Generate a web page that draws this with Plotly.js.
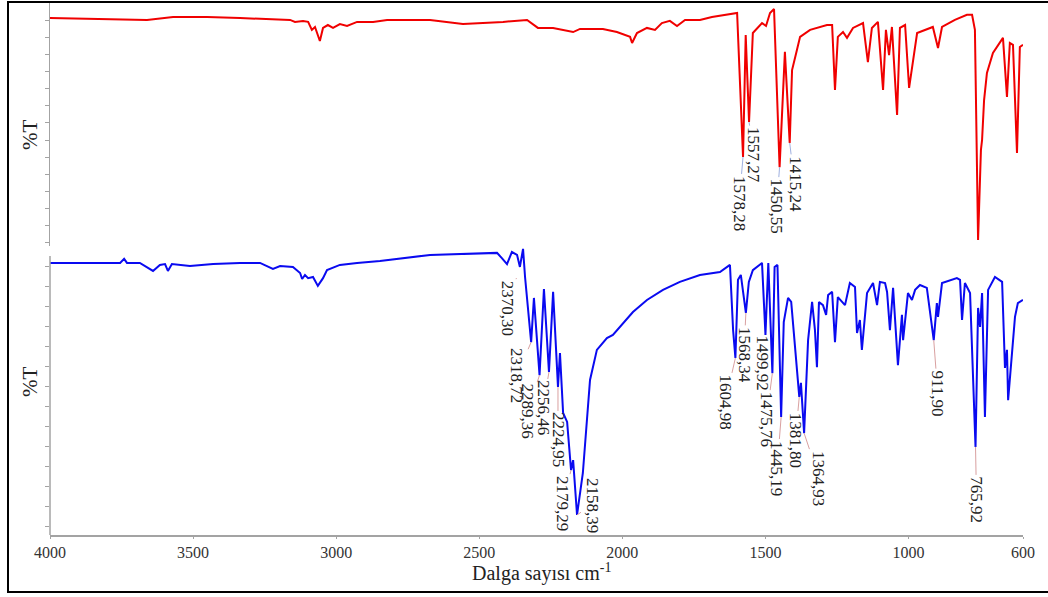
<!DOCTYPE html>
<html>
<head>
<meta charset="utf-8">
<script src="https://cdn.plot.ly/plotly-3.0.1.min.js"></script>
<style>
  html, body { margin: 0; padding: 0; background: #fff; overflow: hidden; }
  #chart { position: absolute; left: 0; top: 0; width: 1048px; height: 597px; }
  #frame { position: absolute; left: 7px; top: 1px; width: 1060px; height: 592px;
           border: 2px solid #000; box-sizing: border-box; pointer-events: none; }
</style>
</head>
<body>
<div id="chart"></div>
<div id="frame"></div>
<script>
// ---- Data ----
const redWavenumber = [4000,3860,3745,3661,3570,3451,3336,3221,3161,3144,3116,3098,3085,3074,3057,3046,3029,3011,2987,2962,2927,2871,2822,2672,2557,2417,2333,2295,2242,2172,2148,2068,2019,1973,1966,1949,1914,1886,1862,1834,1809,1781,1729,1687,1641,1599,1578.28,1569,1557.27,1544,1512,1498,1484,1470,1450.55,1432,1415.24,1407,1390,1379,1344,1285,1267,1257,1247,1229,1215,1194,1159,1142,1128,1107,1089,1079,1068,1058,1040,1030,1012,998,970,915,897,883,838,796,778,768,757,747,743,736,726,705,670,656,646,635,621,611,600];
const redTransmittance = [94.2,93.8,93.4,93.4,94.6,94.6,94.2,93.8,93.4,92.6,93.0,92.6,89.3,90.5,84.7,90.1,91.3,90.1,91.7,90.9,92.6,92.6,93.4,93.4,91.7,92.6,93.4,90.1,90.1,88.4,89.7,89.7,88.4,86.4,83.9,88.0,90.1,89.3,92.1,93.0,90.9,93.4,93.4,94.6,95.5,96.3,36.8,87.2,51.2,88.0,92.1,90.9,96.3,97.9,32.6,80.2,42.6,72.7,81.0,86.4,89.3,91.3,91.3,64.5,86.4,88.4,86.0,90.1,92.1,76.0,90.1,92.6,64.5,89.3,78.9,90.5,54.1,90.1,91.3,65.3,88.0,90.5,81.8,90.5,93.4,95.5,95.5,89.3,2.5,39.7,43.8,60.3,71.5,79.8,86.0,61.6,83.9,83.1,38.4,82.2,83.1];

const blueWavenumber = [4000,3860,3755,3741,3731,3686,3640,3616,3598,3588,3574,3511,3430,3336,3266,3221,3196,3151,3126,3119,3109,3098,3081,3064,3046,3032,2987,2927,2847,2672,2438,2421,2403,2386,2368,2358,2347,2340,2318.72,2309,2289.36,2274,2256.46,2242,2224.95,2218,2207,2193,2179.29,2172,2158.39,2138,2113,2089,2054,2033,2008,1963,1914,1858,1799,1729,1659,1624,1613,1604.98,1596,1586,1568.34,1558,1544,1512,1499.92,1490,1475.76,1468,1458,1445.19,1436,1421,1410,1381.80,1376,1364.93,1351,1337,1327,1320,1313,1299,1288,1281,1267,1257,1247,1222,1205,1187,1180,1170,1163,1145,1124,1110,1100,1082,1075,1065,1054,1037,1023,1019,1002,988,977,960,936,925,911.90,901,897,883,831,820,813,803,785,765.92,757,750,743,733,722,698,673,663,656,652,639,628,618,600];
const blueTransmittance = [94.8,94.8,94.8,96.2,94.8,94.8,92.0,94.1,94.4,92.0,94.4,93.7,94.4,94.8,94.8,92.7,93.7,93.4,91.3,89.2,90.6,89.5,89.9,86.8,89.5,92.3,94.1,94.8,95.5,97.6,98.3,96.5,94.4,98.6,97.6,93.4,99.7,89.9,67.2,82.6,55.7,85.7,56.8,84.7,51.6,63.4,42.5,39.4,22.6,26.1,7.0,21.6,54.0,64.5,68.6,69.7,72.5,77.7,81.9,85.4,88.2,90.6,91.6,94.1,71.4,61.7,88.9,90.6,77.4,88.2,92.3,94.8,69.7,94.8,56.4,93.4,94.1,41.1,74.2,82.6,81.2,48.1,53.0,35.5,67.9,81.2,71.4,58.5,81.2,80.1,76.7,83.6,84.7,67.2,82.9,80.1,87.8,86.4,70.4,74.9,64.5,84.3,87.8,80.1,88.2,87.8,84.7,71.4,86.1,59.2,76.7,67.9,84.3,81.9,85.4,87.1,86.1,78.4,67.9,80.8,76.0,87.8,89.5,88.9,74.9,87.8,84.3,30.7,79.1,72.5,84.3,41.1,85.4,89.9,88.2,58.2,64.5,47.0,61.7,76.0,80.8,81.9];

// Peak labels
const redPeakWavenumber = [1578.28, 1557.27, 1450.55, 1415.24];
const redPeakTransmittance = [36.8, 51.2, 32.6, 42.6];
const redPeakLabels = ["1578,28", "1557,27", "1450,55", "1415,24"];

const bluePeakWavenumber = [2370.30, 2318.72, 2289.36, 2256.46, 2224.95, 2179.29, 2158.39, 1604.98, 1568.34, 1499.92, 1475.76, 1445.19, 1381.80, 1364.93, 911.90, 765.92];
const bluePeakTransmittance = [89.5, 67.2, 55.7, 56.8, 51.6, 22.6, 7.0, 61.7, 77.4, 69.7, 56.4, 41.1, 48.1, 35.5, 67.9, 30.7];
const bluePeakLabels = ["2370,30", "2318,72", "2289,36", "2256,46", "2224,95", "2179,29", "2158,39", "1604,98", "1568,34", "1499,92", "1475,76", "1445,19", "1381,80", "1364,93", "911,90", "765,92"];

const xTickValues = [4000, 3500, 3000, 2500, 2000, 1500, 1000, 600];
const xTickLabels = ["4000", "3500", "3000", "2500", "2000", "1500", "1000", "600"];

const xTitle = "Dalga sayısı cm<sup>-1</sup>";
const yTitle = "%T";

// ---- Styling / layout ----
const serif = "Liberation Serif, Times New Roman, serif";
const axisGray = "#a3a3a3";

// label offsets (pixels) from the peak tip to the label centre
const redOffsets = [[-4, 46], [5, 33], [-3, 39], [5, 41]];
const blueOffsets = [[-9, 30], [-14, 33], [-12, 36], [-6, 36], [0, 53], [-8, 33], [15, -10],
                     [-10, 44], [-2, 42], [-3, 28], [-6, 46], [-4, 51], [-4, 43], [15, 45], [4, 53], [1, 53]];

function peakAnnotations(xs, ys, labels, offsets, yref, arrowColor) {
  return xs.map((x, i) => ({
    x: x, y: ys[i], xref: "x", yref: yref,
    text: labels[i], textangle: 90,
    showarrow: true, arrowhead: 0, arrowwidth: 1, arrowcolor: arrowColor,
    ax: offsets[i][0], ay: offsets[i][1],
    font: { family: serif, size: 17, color: "#222" }
  }));
}

const traces = [
  { x: redWavenumber, y: redTransmittance, xaxis: "x", yaxis: "y", type: "scatter", mode: "lines",
    line: { color: "rgb(240,0,0)", width: 2 }, hoverinfo: "skip" },
  { x: blueWavenumber, y: blueTransmittance, xaxis: "x", yaxis: "y2", type: "scatter", mode: "lines",
    line: { color: "rgb(10,10,240)", width: 2 }, hoverinfo: "skip" }
];

const plotH = 532;
const layout = {
  width: 1048, height: 597,
  margin: { l: 50, r: 25, t: 3, b: 62, pad: 0 },
  paper_bgcolor: "#fff", plot_bgcolor: "#fff",
  showlegend: false,
  font: { family: serif, color: "#333" },
  xaxis: {
    anchor: "y2", range: [4000, 600], domain: [0, 1],
    tickvals: xTickValues, ticktext: xTickLabels,
    tickfont: { family: serif, size: 16, color: "#333" },
    showline: true, linecolor: axisGray, linewidth: 1.5,
    ticks: "outside", ticklen: 2, tickcolor: axisGray,
    showgrid: false, zeroline: false
  },
  yaxis: {
    domain: [(535 - 246) / plotH, 1], range: [0, 100.4],
    showline: true, linecolor: axisGray, linewidth: 1.5,
    ticks: "outside", ticklen: 4, tickcolor: axisGray,
    tick0: 1.3, dtick: 7.08,
    showticklabels: false, showgrid: false, zeroline: false
  },
  yaxis2: {
    domain: [0, (535 - 248) / plotH], range: [0, 100],
    showline: false,
    ticks: "outside", ticklen: 4, tickcolor: axisGray,
    tick0: 2.79, dtick: 6.97,
    showticklabels: false, showgrid: false, zeroline: false
  },
  shapes: [
    { type: "line", xref: "paper", yref: "paper", x0: 0, x1: 0, y0: 0, y1: (535 - 256) / plotH,
      line: { color: axisGray, width: 1.5 } }
  ],
  annotations: [
    ...peakAnnotations(redPeakWavenumber, redPeakTransmittance, redPeakLabels, redOffsets, "y", "#9fb0e0"),
    ...peakAnnotations(bluePeakWavenumber, bluePeakTransmittance, bluePeakLabels, blueOffsets, "y2", "#d9a0a0"),
    { xref: "paper", yref: "paper", x: (30 - 50) / 973, y: (535 - 135) / plotH, text: yTitle, textangle: -90,
      xanchor: "center", yanchor: "middle",
      showarrow: false, font: { family: serif, size: 21, color: "#222" } },
    { xref: "paper", yref: "paper", x: (30 - 50) / 973, y: (535 - 382) / plotH, text: yTitle, textangle: -90,
      xanchor: "center", yanchor: "middle",
      showarrow: false, font: { family: serif, size: 21, color: "#222" } },
    { xref: "paper", yref: "paper", x: (541 - 50) / 973, y: (535 - 572) / plotH, text: xTitle,
      xanchor: "center", yanchor: "middle",
      showarrow: false, font: { family: serif, size: 20, color: "#222" } }
  ]
};

Plotly.newPlot("chart", traces, layout, { staticPlot: true, displayModeBar: false });
</script>
</body>
</html>
